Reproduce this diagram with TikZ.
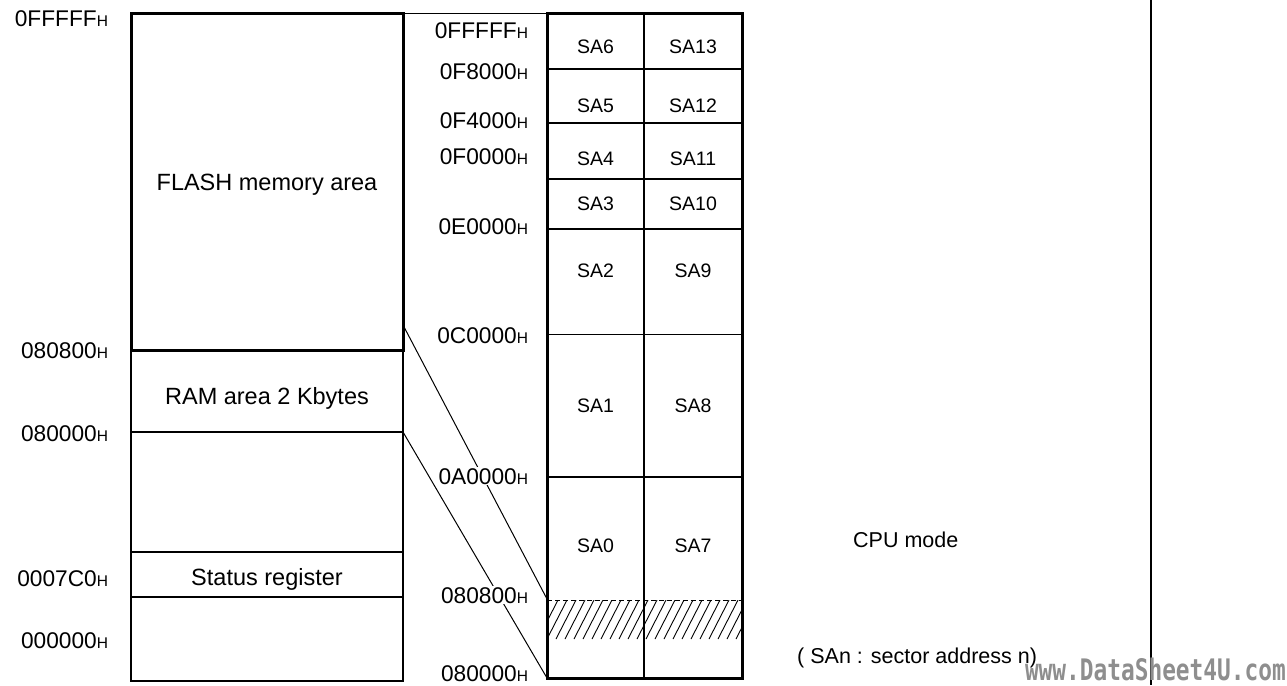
\documentclass[tikz,border=0pt]{standalone}
\usepackage{fontspec}
\setmainfont{Liberation Sans}
\newfontfamily\wmfont{DejaVu Sans Mono}
\definecolor{wmgray}{HTML}{8E8E8E}
\newcommand\adlbl[1]{{\fontsize{22.7}{26}\selectfont #1\fontsize{15.5}{18}\selectfont H}}
\begin{document}
\begin{tikzpicture}[x=1pt,y=-1pt,
  thickline/.style={line width=3pt},
  thinline/.style={line width=1.1pt},
  conn/.style={line width=1pt},
  addr/.style={anchor=base east, inner sep=0.8pt, fill=white},
  sa/.style={anchor=base, inner sep=0pt, font=\fontsize{19.5}{22}\selectfont},
  boxtxt/.style={anchor=base, inner sep=0pt, font=\fontsize{23.5}{28}\selectfont},
  note/.style={anchor=base west, inner sep=0pt, font=\fontsize{21.5}{26}\selectfont}]
\useasboundingbox (0,0) rectangle (1287,685);

% ---------- left memory map ----------
\coordinate (LTL) at (131,14);
\coordinate (LFR) at (403,350);
\draw[thinline] (131,350) rectangle (403,681);
\draw[thinline] (131,432) -- (403,432);
\draw[thinline] (131,552) -- (403,552);
\draw[thinline] (131,597) -- (403,597);
\draw[thickline] (LTL) rectangle (LFR);

\node[boxtxt] (flash) at (267,190) {FLASH memory area};
\node[boxtxt] (ram) at (267,404) {RAM area 2 Kbytes};
\node[boxtxt] (stat) at (267,585) {Status register};

% ---------- right sector map ----------
\foreach \y in {69,123,179,229,334.5,477}
  \draw[thinline] (547,\y) -- (742,\y);
\draw[thinline] (644,14) -- (644,678);
\begin{scope}
  \clip (547,600) rectangle (742,639);
  \foreach \x in {549,558,...,780}
    \draw[line width=0.9pt] (\x-20,639) -- (\x,600);
\end{scope}
\draw[line width=0.9pt, dash pattern=on 5pt off 3pt] (547,600) -- (742,600);
\coordinate (RTL) at (547,14);
\coordinate (RBR) at (742,678);
\draw[thickline] (RTL) rectangle (RBR);

% ---------- connectors ----------
\coordinate (a1) at (403,14);  \coordinate (b1) at (547,14);
\coordinate (a2) at (403,325); \coordinate (b2) at (547,599);
\coordinate (a3) at (403,432); \coordinate (b3) at (547,678);
\draw[conn] (a1) -- (b1);
\draw[conn] (a2) -- (b2);
\draw[conn] (a3) -- (b3);

% ---------- sector labels ----------
\foreach \l/\r/\y in {SA6/SA13/53, SA5/SA12/112, SA4/SA11/165, SA3/SA10/210,
                      SA2/SA9/277, SA1/SA8/412, SA0/SA7/552} {
  \node[sa] (s\l) at (595.5,\y) {\l};
  \node[sa] (s\r) at (693,\y) {\r};
}

% ---------- address labels ----------
\node[addr] (l1) at (109,27)  {\adlbl{0FFFFF}};
\node[addr] (l2) at (109,358) {\adlbl{080800}};
\node[addr] (l3) at (109,441) {\adlbl{080000}};
\node[addr] (l4) at (109,586) {\adlbl{0007C0}};
\node[addr] (l5) at (109,648) {\adlbl{000000}};

\node[addr] (r1) at (529,38)  {\adlbl{0FFFFF}};
\node[addr] (r2) at (529,79)  {\adlbl{0F8000}};
\node[addr] (r3) at (529,128) {\adlbl{0F4000}};
\node[addr] (r4) at (529,164) {\adlbl{0F0000}};
\node[addr] (r5) at (529,234) {\adlbl{0E0000}};
\node[addr] (r6) at (529,343) {\adlbl{0C0000}};
\node[addr] (r7) at (529,484) {\adlbl{0A0000}};
\node[addr] (r8) at (529,603) {\adlbl{080800}};
\node[addr] (r9) at (529,681.5) {\adlbl{080000}};

% ---------- right side ----------
\coordinate (vt) at (1151,0);
\coordinate (vb) at (1151,685);
\draw[line width=2.3pt] (vt) -- (vb);

\node[note] (cpu) at (853,547.5) {CPU mode};
\node[note] (sanote) at (797,663) {( SAn : sector address n)};
\node[anchor=base east, inner sep=0pt, text=wmgray] (wm) at (1286,680)
  {\scalebox{1}[1.3]{\wmfont\bfseries\fontsize{22.8}{26}\selectfont www.DataSheet4U.com}};
\end{tikzpicture}
\end{document}
